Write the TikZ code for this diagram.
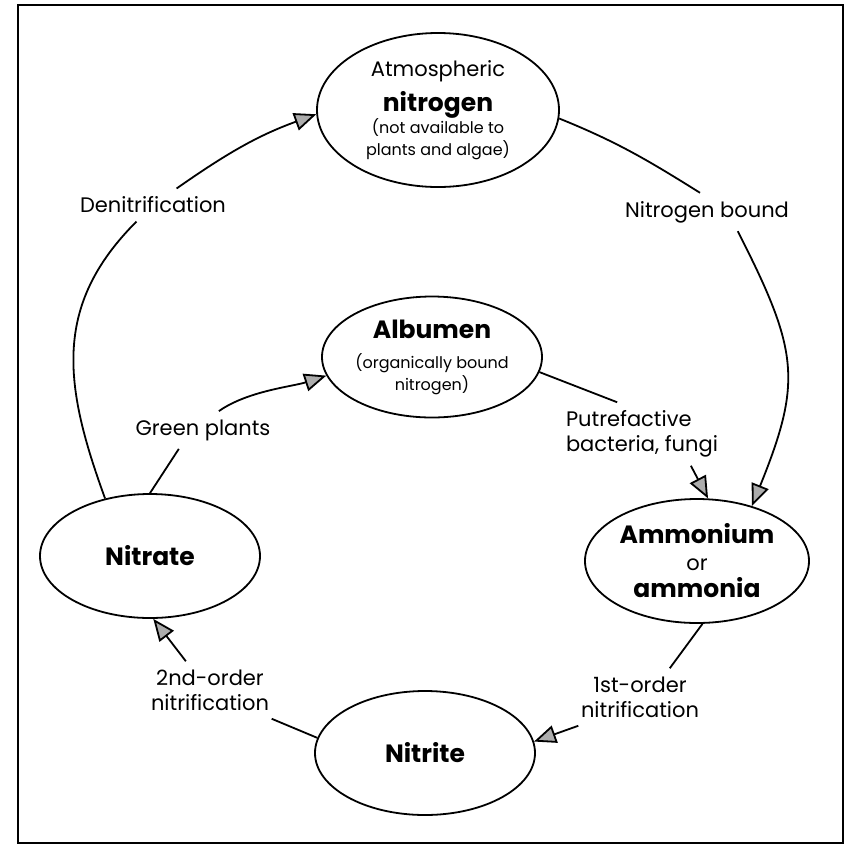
\documentclass[tikz,border=0pt]{standalone}
\usepackage{fontspec}
\setmainfont{Poppins}
\usetikzlibrary{arrows.meta,shapes,positioning}

\newcommand{\cyclebold}[1]{{\fontsize{12.5}{11}\selectfont\bfseries #1}}
\newcommand{\cyclesmall}[1]{{\fontsize{8}{11}\selectfont #1}}

\tikzset{
  pool/.style={ellipse, draw, line width=0.9pt, inner sep=0pt, align=center,
    font=\fontsize{10.5}{11}\selectfont},
  lbl/.style={inner sep=4pt, align=center, font=\fontsize{10.5}{12.5}\selectfont},
  link/.style={line width=0.9pt},
  flow/.style={-{Triangle[length=11pt,width=9pt,fill=gray!65]}},
}

\begin{document}
\begin{tikzpicture}[x=0.5pt, y=-0.5pt]
   \useasboundingbox (0,0) rectangle (847,848);
   \draw[line width=1pt] (18,5) rectangle (843,843);

   %pools
   \node[pool, minimum width=121pt, minimum height=77pt] (atmos) at (438,110)
     {Atmospheric\\[4pt]\cyclebold{nitrogen}\\\cyclesmall{(not available to}\\\cyclesmall{plants and algae)}};
   \node[pool, minimum width=110pt, minimum height=60.5pt] (albumen) at (432,357)
     {\cyclebold{Albumen}\\[4pt]\cyclesmall{(organically bound}\\\cyclesmall{nitrogen)}};
   \node[pool, minimum width=112pt, minimum height=62pt] (ammon) at (697,561)
     {\cyclebold{Ammonium}\\[2.5pt]or\\[2.5pt]\cyclebold{ammonia}};
   \node[pool, minimum width=110pt, minimum height=62pt] (nitrate) at (150,556) {\cyclebold{Nitrate}};
   \node[pool, minimum width=110pt, minimum height=62pt] (nitrite) at (425,753) {\cyclebold{Nitrite}};

   %processes
   \node[lbl] (denit) at (153,205) {Denitrification};
   \node[lbl] (nbound) at (707,212) {Nitrogen bound};
   \node[lbl] (green) at (203,430) {Green plants};
   \node[lbl, align=left] (putre) at (642,434) {Putrefactive\\bacteria, fungi};
   \node[lbl] (first) at (640,697) {1st-order\\nitrification};
   \node[lbl] (second) at (210,690) {2nd-order\\nitrification};

  \path[link]
    %denitrification
    (nitrate.128) edge[out=110, in=225, looseness=1.1] (denit)
    (denit) edge[flow, out=35, in=200] (atmos.182)
    %nitrogen bound
    (atmos.-4) edge[out=-22, in=148] (nbound.110)
    (nbound.-32) edge[flow, out=-63, in=68, looseness=1.25] (ammon.45)
    %green plants
    (nitrate.north) edge (green.218)
    (green.50) edge[flow, out=35, in=198, looseness=0.8] (albumen.190)
    %putrefaction
    (albumen.-8) edge (putre.128)
    (putre.-33) edge[flow] (ammon.80)
    %1st-order nitrification
    (ammon.-85) edge (first.44)
    (first.205) edge[flow] (nitrite.6)
    %2nd-order nitrification
    (nitrite.172) edge (second.-25)
    (second.130) edge[flow] (nitrate.-87);
\end{tikzpicture}
\end{document}
